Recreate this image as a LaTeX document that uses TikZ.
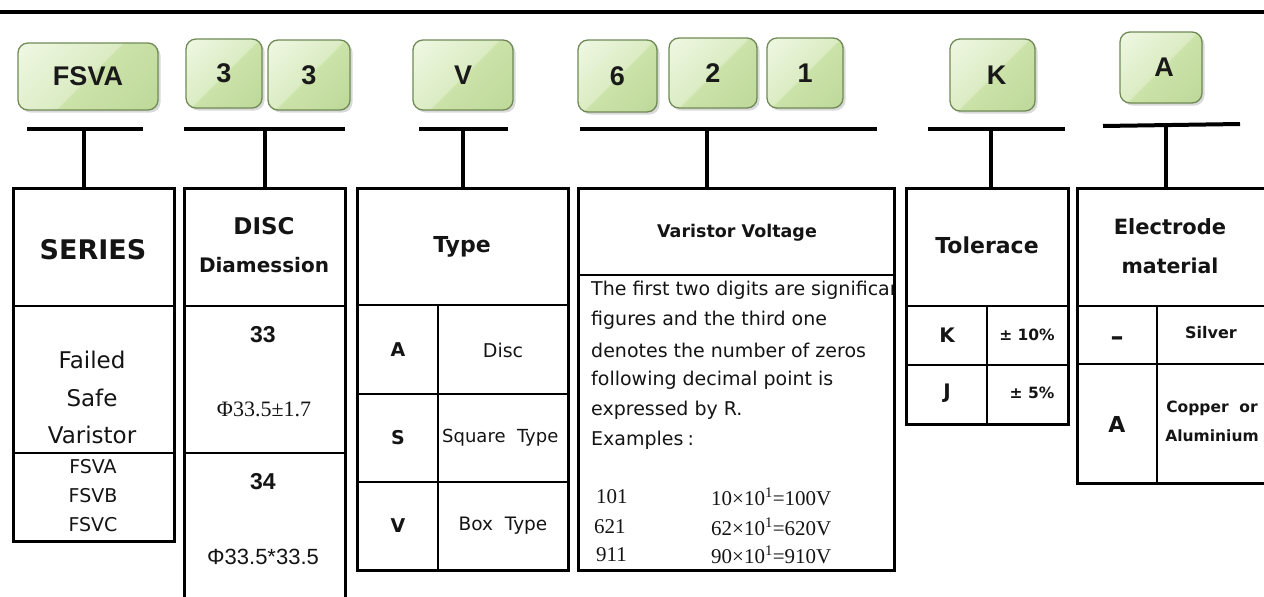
\documentclass[tikz,border=0pt]{standalone}
\usepackage{fontspec}
\setmainfont{DejaVu Sans}
\newfontfamily\arialf{Liberation Sans}
\newfontfamily\timesf{Liberation Serif}
\usetikzlibrary{shadows}
\definecolor{gA}{HTML}{B8D493}
\definecolor{gB}{HTML}{CBE2A9}
\definecolor{gC}{HTML}{DBECC3}
\definecolor{gD}{HTML}{F8FCF1}
\definecolor{btnborder}{HTML}{6F8A55}
\pgfdeclareverticalshading{btnshade}{100bp}{color(0bp)=(gA); color(49bp)=(gB); color(50bp)=(gC); color(100bp)=(gD)}
\newcommand{\myfs}[1]{\fontsize{#1}{#1}\selectfont}
\begin{document}
\begin{tikzpicture}[x=1pt, y=-1pt,
  btn/.style={draw=btnborder, line width=1.3pt, rounded corners=10pt, shade, shading=btnshade, shading angle=45,
    drop shadow={shadow xshift=2.5pt, shadow yshift=-2.5pt, opacity=0.3}, inner sep=0pt},
  btxt/.style={inner sep=0pt, font=\arialf\bfseries\myfs{27}, text=black!90},
  tbl/.style={draw, line width=2.6pt, anchor=north west, inner sep=0pt},
  inner/.style={line width=2.2pt},
  thin/.style={line width=1.5pt},
  bar/.style={line width=4pt},
  stem/.style={line width=3.5pt},
  txt/.style={inner sep=0pt, text=black!92},
  bodyl/.style={txt, anchor=west, font=\myfs{19}},
  ex/.style={txt, anchor=west, font=\timesf\myfs{21}}]
\useasboundingbox (0,0) rectangle (1264,597);
% top rule
\coordinate (topL) at (0,12);
\coordinate (topR) at (1264,12);
\draw[line width=4pt] (topL) -- (topR);

% buttons
\node[btn, minimum width=140pt, minimum height=67pt] (bFSVA) at (88,76.5) {};
\node[btn, minimum width=76pt, minimum height=69pt] (b3a) at (224,73.5) {};
\node[btn, minimum width=82pt, minimum height=70pt] (b3b) at (309,75) {};
\node[btn, minimum width=100pt, minimum height=70pt] (bV) at (463,75) {};
\node[btn, minimum width=79pt, minimum height=72pt] (b6) at (617.5,76) {};
\node[btn, minimum width=88pt, minimum height=70pt] (b2) at (713,73) {};
\node[btn, minimum width=76pt, minimum height=70pt] (b1) at (805,73) {};
\node[btn, minimum width=85pt, minimum height=72pt] (bK) at (992.5,75) {};
\node[btn, minimum width=82pt, minimum height=71pt] (bA) at (1161,67.5) {};
\node[btxt] (lFSVA) at (bFSVA.center) {FSVA};
\node[btxt] (l3a) at (b3a.center) {3};
\node[btxt] (l3b) at (b3b.center) {3};
\node[btxt] (lV) at (bV.center) {V};
\node[btxt] (l6) at (b6.center) {6};
\node[btxt] (l2) at (b2.center) {2};
\node[btxt] (l1) at (b1.center) {1};
\node[btxt] (lK) at ([xshift=4pt]bK.center) {K};
\node[btxt] (lA) at ([xshift=3pt]bA.center) {A};

% tables
\node[tbl, minimum width=161pt, minimum height=353pt] (tSer) at (12,187) {};
\node[tbl, minimum width=161pt, minimum height=433pt] (tDisc) at (183,187) {};
\node[tbl, minimum width=211pt, minimum height=382pt] (tType) at (356,187) {};
\node[tbl, minimum width=316pt, minimum height=382pt] (tVar) at (577,187) {};
\node[tbl, minimum width=162pt, minimum height=236pt] (tTol) at (905,187) {};
\node[tbl, minimum width=199pt, minimum height=295pt] (tEl) at (1076,187) {};

% table inner lines
\draw[inner] (12,306) -- (173,306) (12,453) -- (173,453);
\draw[inner] (183,306) -- (344,306) (183,453) -- (344,453);
\draw[inner] (356,305) -- (567,305) (356,394) -- (567,394) (356,482) -- (567,482) (438,305) -- (438,569);
\draw[inner] (577,275) -- (893,275);
\draw[thin] (905,306) -- (1067,306) (905,365) -- (1067,365) (987,306) -- (987,423);
\draw[thin] (1076,306) -- (1275,306) (1076,364) -- (1275,364) (1157,306) -- (1157,482);

% T connectors
\coordinate (b1l) at (27,129);  \coordinate (b1r) at (143,129);  \coordinate (s1) at (84,129);
\coordinate (b2l) at (184,129); \coordinate (b2r) at (345,129);  \coordinate (s2) at (265,129);
\coordinate (b3l) at (419,129); \coordinate (b3r) at (508,129);  \coordinate (s3) at (463,129);
\coordinate (b4l) at (580,129); \coordinate (b4r) at (877,129);  \coordinate (s4) at (707,129);
\coordinate (b5l) at (928,129); \coordinate (b5r) at (1065,129); \coordinate (s5) at (991,129);
\coordinate (b6l) at (1103,126); \coordinate (b6r) at (1240,124); \coordinate (s6) at (1166,125);
\draw[bar] (b1l) -- (b1r); \draw[stem] (s1) -- (s1 |- tSer.north);
\draw[bar] (b2l) -- (b2r); \draw[stem] (s2) -- (s2 |- tDisc.north);
\draw[bar] (b3l) -- (b3r); \draw[stem] (s3) -- (s3 |- tType.north);
\draw[bar] (b4l) -- (b4r); \draw[stem] (s4) -- (s4 |- tVar.north);
\draw[bar] (b5l) -- (b5r); \draw[stem] (s5) -- (s5 |- tTol.north);
\draw[bar] (b6l) -- (b6r); \draw[stem] (s6) -- (s6 |- tEl.north);

% SERIES
\node[txt, font=\bfseries\myfs{27}] (serH) at (93,250) {SERIES};
\node[txt, font=\myfs{23}] (ser1) at (92,360) {Failed};
\node[txt, font=\myfs{23}] (ser2) at (92,398) {Safe};
\node[txt, font=\myfs{23}] (ser3) at (92,435) {Varistor};
\node[txt, font=\myfs{19}] (ser4) at (93,467) {FSVA};
\node[txt, font=\myfs{19}] (ser5) at (93,496) {FSVB};
\node[txt, font=\myfs{19}] (ser6) at (93,525) {FSVC};

% DISC
\node[txt, font=\bfseries\myfs{23}] (diH1) at (264,226) {DISC};
\node[txt, font=\bfseries\myfs{20}] (diH2) at (264,265) {Diamession};
\node[txt, font=\arialf\bfseries\myfs{23}] (di1) at (263,335) {33};
\node[txt, font=\timesf\myfs{22}] (di2) at (264,409) {Φ33.5±1.7};
\node[txt, font=\arialf\bfseries\myfs{23}] (di3) at (263,482) {34};
\node[txt, font=\arialf\myfs{22}] (di4) at (263,557) {Φ33.5*33.5};

% Type
\node[txt, font=\bfseries\myfs{22}] (tyH) at (462,247) {Type};
\node[txt, font=\bfseries\myfs{19}] (ty1) at (398,350) {A};
\node[txt, font=\myfs{19}] (ty2) at (503,350) {Disc};
\node[txt, font=\bfseries\myfs{19}] (ty3) at (398,438) {S};
\node[txt, font=\myfs{18}, anchor=west] (ty4) at (442,438) {Square\ \ Type};
\node[txt, font=\bfseries\myfs{19}] (ty5) at (398,526) {V};
\node[txt, font=\myfs{18.5}] (ty6) at (503,526) {Box\ \ Type};

% Varistor voltage
\node[txt, font=\bfseries\myfs{17.5}] (vaH) at (737,233) {Varistor Voltage};
\begin{scope}
\clip (578,276) rectangle (892,568);
\node[bodyl] (va1) at (591,290) {The first two digits are significant};
\node[bodyl] (va2) at (591,320) {figures and the third one};
\node[bodyl] (va3) at (591,350) {denotes the number of zeros};
\node[bodyl] (va4) at (591,380) {following decimal point is};
\node[bodyl] (va5) at (591,410) {expressed by R.};
\node[bodyl] (va6) at (591,440) {Examples\hspace{4pt}:};
\node[ex] (ex1a) at (596,497) {101};
\node[ex] (ex1b) at (711,497) {10×10\textsuperscript{1}=100V};
\node[ex] (ex2a) at (594,527) {621};
\node[ex] (ex2b) at (711,527) {62×10\textsuperscript{1}=620V};
\node[ex] (ex3a) at (596,555) {911};
\node[ex] (ex3b) at (711,555) {90×10\textsuperscript{1}=910V};
\end{scope}

% Tolerance
\node[txt, font=\bfseries\myfs{22}] (toH) at (987,245) {Tolerace};
\node[txt, font=\bfseries\myfs{20}] (to1) at (947,335) {K};
\node[txt, font=\bfseries\myfs{15.5}] (to2) at (1027,335) {± 10\%};
\node[txt, font=\bfseries\myfs{20}] (to3) at (947,393) {J};
\node[txt, font=\bfseries\myfs{15.5}] (to4) at (1032,393) {± 5\%};

% Electrode
\node[txt, font=\bfseries\myfs{21}] (elH1) at (1170,227) {Electrode};
\node[txt, font=\bfseries\myfs{20.5}] (elH2) at (1170,266) {material};
\node[txt, font=\bfseries\myfs{26}] (el1) at (1117,341) {–};
\node[txt, font=\bfseries\myfs{16}] (el2) at (1211,333) {Silver};
\node[txt, font=\bfseries\myfs{22}] (el3) at (1117,424) {A};
\node[txt, font=\bfseries\myfs{15.5}] (el4) at (1212,408) {Copper\ \ or};
\node[txt, font=\bfseries\myfs{15.5}] (el5) at (1212,436) {Aluminium};
\end{tikzpicture}
\end{document}
